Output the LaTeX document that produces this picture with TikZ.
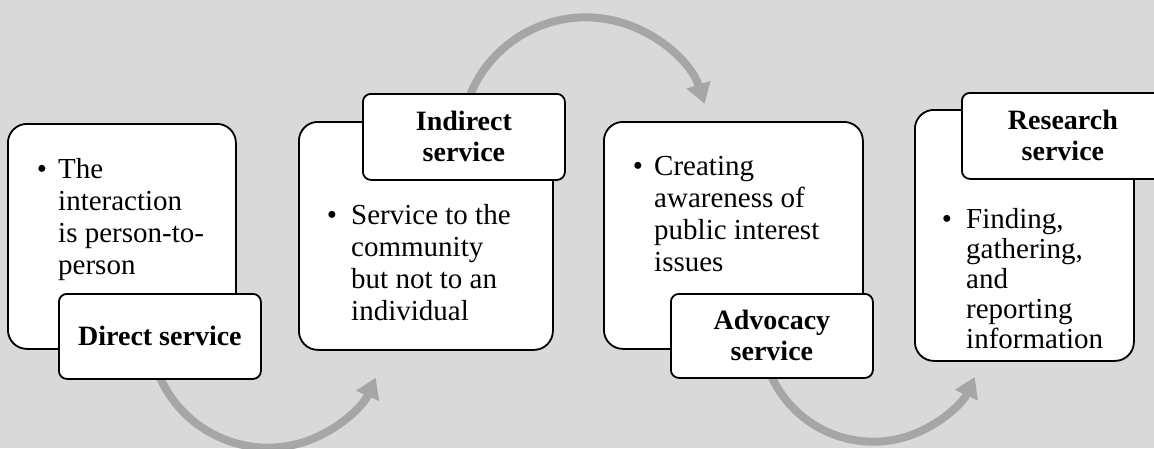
\documentclass[tikz,border=0pt]{standalone}
\usepackage{fontspec}
\setmainfont{Liberation Serif}
\usepackage{tikz}
\usetikzlibrary{arrows.meta, positioning}
\definecolor{bggray}{HTML}{D9D9D9}
\definecolor{arcgray}{HTML}{A6A6A6}
\newcommand{\textlines}[1]{\begin{tabular}[t]{@{}l@{}}#1\end{tabular}}

\begin{document}
\begin{tikzpicture}[x=1pt,y=-1pt,
  panel/.style={draw,line width=1.8pt,fill=white,rounded corners=19pt,anchor=north west,inner sep=0pt},
  tag/.style={draw,line width=1.8pt,fill=white,rounded corners=8pt,anchor=north west,inner sep=0pt,
    minimum width=202pt,align=center,font=\fontsize{28}{31}\selectfont\bfseries},
  body/.style={anchor=base west,inner sep=0pt,font=\fontsize{29}{32}\selectfont},
  dot/.style={anchor=base,inner sep=0pt,font=\fontsize{29}{32}\selectfont},
  flow/.style={draw=arcgray,line width=8pt,-{Triangle[length=20pt,width=24pt]}}]
\fill[bggray] (0,0) rectangle (1154,448);
\useasboundingbox (0,0) rectangle (1154,448);

% curved arrows, behind the boxes
\coordinate (s1) at (157,370);
\coordinate (s2) at (465,110);
\coordinate (s3) at (768,368);
\draw[flow] (s1) arc[start angle=160, end angle=24, radius=118];
\draw[flow] (s2) arc[start angle=-165, end angle=-18, radius=125];
\draw[flow] (s3) arc[start angle=160, end angle=25, radius=112];

% boxes
\node[panel,minimum width=228pt,minimum height=225pt] (b1) at (7,123) {};
\node[panel,minimum width=254pt,minimum height=228pt] (b2) at (298,121) {};
\node[panel,minimum width=259pt,minimum height=227pt] (b3) at (603,121) {};
\node[panel,minimum width=219pt,minimum height=251pt] (b4) at (914,109) {};

% labels
\node[tag,minimum height=85pt] (t1) at (58,293) {Direct service};
\node[tag,minimum height=86pt] (t2) at (362,93) {Indirect\\service};
\node[tag,minimum height=84pt] (t3) at (670,293) {Advocacy\\service};
\node[tag,minimum height=86pt] (t4) at (961,92) {Research\\service};

% texts
\node[dot] (d1) at (42,178) {\textbullet};
\node[body] (n1) at (58,178) {\textlines{The\\interaction\\is person-to-\\person}};
\node[dot] (d2) at (332,224) {\textbullet};
\node[body] (n2) at (351,224) {\textlines{Service to the\\community\\but not to an\\individual}};
\node[dot] (d3) at (638,175) {\textbullet};
\node[body] (n3) at (654,175) {\textlines{Creating\\awareness of\\public interest\\issues}};
\node[dot] (d4) at (947,228) {\textbullet};
\node[body,font=\fontsize{29}{30}\selectfont] (n4) at (966,228) {\textlines{Finding,\\gathering,\\and\\reporting\\information}};
\end{tikzpicture}
\end{document}
